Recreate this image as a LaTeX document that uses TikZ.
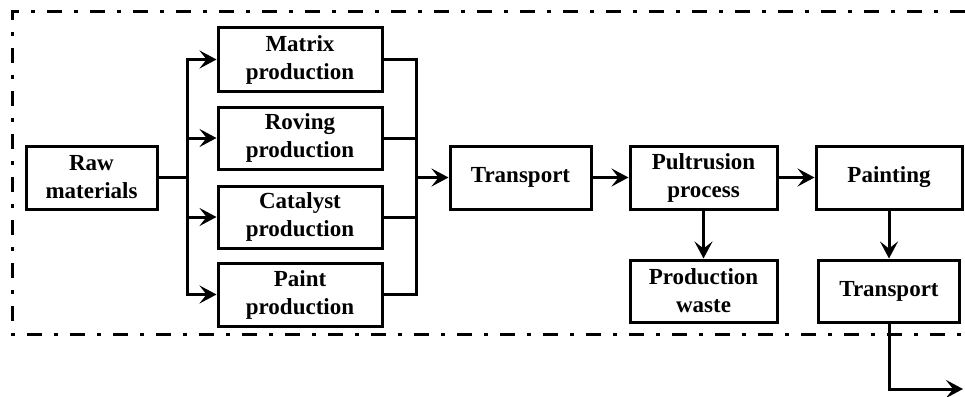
\documentclass[tikz,border=0pt]{standalone}
\usepackage{fontspec}
\setmainfont{Liberation Serif}
\usepackage{tikz}
\usetikzlibrary{arrows.meta}

\begin{document}
\begin{tikzpicture}[x=1pt,y=-1pt,
	box/.style={draw,line width=3pt,inner sep=0pt,align=center,
		minimum height=63pt,font=\fontsize{23}{28}\selectfont\bfseries},
	flow/.style={line width=3pt,-{Stealth[length=17pt,width=18pt,inset=7pt]}},
	wire/.style={line width=3pt},
	frame/.style={line width=3.8pt,dash pattern=on 15pt off 12pt on 4pt off 12pt}]
	\useasboundingbox (0,0) rectangle (965,396);
	%
	\draw[frame] (965,11.5) -| (12.5,334.5) -- (965,334.5);
	%
	\node[box,minimum width=131pt] (raw) at (91.5,177.5) {Raw\\materials};
	\node[box,minimum width=164pt] (matrix) at (300,59.5) {Matrix\\production};
	\node[box,minimum width=164pt,minimum height=62pt] (roving) at (300,138) {Roving\\production};
	\node[box,minimum width=164pt,minimum height=62pt] (catalyst) at (300,217) {Catalyst\\production};
	\node[box,minimum width=164pt] (paint) at (300,294.5) {Paint\\production};
	\node[box,minimum width=141pt] (transA) at (520.5,177.5) {Transport};
	\node[box,minimum width=147pt] (pultr) at (703.5,177.5) {Pultrusion\\process};
	\node[box,minimum width=146pt] (painting) at (889,177.5) {Painting};
	\node[box,minimum width=147pt,minimum height=62pt] (waste) at (703.5,291) {Production\\waste};
	\node[box,minimum width=141pt,minimum height=62pt] (transB) at (889,291) {Transport};
	%
	\coordinate (splitL) at (187,177.5);
	\coordinate (splitR) at (416,177.5);
	\coordinate (out) at (963,389);
	%
	\draw[wire] (raw) -- (splitL);
	\foreach \n in {matrix,roving,catalyst,paint}{
		\draw[flow] (splitL) |- (\n);
		\draw[wire] (\n) -| (splitR);
	}
	\path[flow]
	(splitR) edge (transA)
	(transA) edge (pultr)
	(pultr) edge (painting)
		edge (waste)
	(painting) edge (transB);
	\draw[flow] (transB) |- (out);
\end{tikzpicture}
\end{document}
